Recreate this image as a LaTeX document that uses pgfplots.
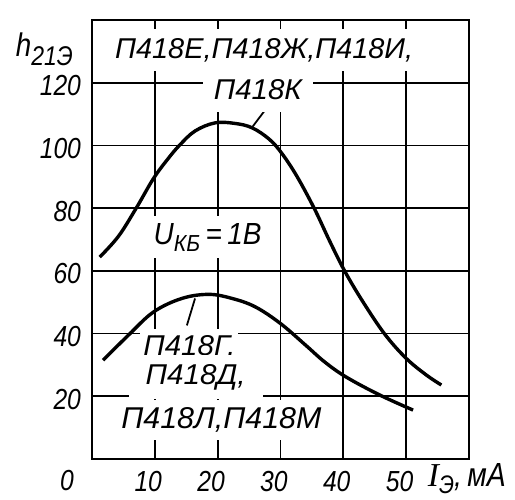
\documentclass[border=0pt]{standalone}
\usepackage{fontspec}
\setmainfont{Liberation Sans}[FakeStretch=0.85]
\newfontfamily\serifI{Liberation Serif}
\usepackage{pgfplots}
\pgfplotsset{compat=1.18}
\newcommand\gf{\fontsize{14.5}{16}\selectfont\itshape}
\newcommand\fit[3]{\resizebox{#1}{#2}{\gf #3}}
\begin{document}
\begin{tikzpicture}
\useasboundingbox (0,0) rectangle (257.5pt,249.5pt);
\begin{axis}[
  at={(46pt,20pt)}, anchor=south west,
  scale only axis, width=188.5pt, height=219.5pt,
  xmin=0, xmax=60, ymin=0, ymax=140,
  xtick={10,20,30,40,50}, xticklabels={10,20,30,40,50},
  ytick={20,40,60,80,100,120}, yticklabels={20,40,60,80,100,120},
  grid=major, major grid style={black, line width=0.9pt},
  axis line style={line width=1.3pt},
  major tick length=0pt,
  tick label style={font=\gf},
  xticklabel style={yshift=-2.5pt, xshift=-3.3pt},
  yticklabel style={xshift=-2pt, yshift=-1.5pt},
  clip=false,
]
\addplot[black, line width=1.7pt, smooth, tension=0.6] coordinates {
 (1.23,64.4) (4.2,71) (7.04,80) (9.8,89.5) (12.2,96) (14,100.2) (16.4,104.6)
 (19.6,107.2) (22.8,107) (25.5,105.6) (28.2,102) (30.2,97.5) (32.6,90.2)
 (35.4,79.8) (37.8,69.6) (40.2,60) (43.1,50.2) (46.6,39.8) (50,32.1) (53.2,26.8) (55.6,23.6)};
\addplot[black, line width=1.7pt, smooth, tension=0.6] coordinates {
 (1.76,31.5) (5.8,39.5) (9.8,46.9) (14.3,51.2) (18.6,52.5) (22.3,51.2) (26,48.5)
 (30,43.2) (34,36.3) (37,31) (40.4,26.2) (45.8,20.4) (51.1,15.6)};
% leader lines
\draw[black, line width=0.9pt] (axis cs:25.6,106.1) -- (axis cs:27.9,112.2);
\draw[black, line width=0.9pt] (axis cs:16.4,51.2) -- (axis cs:15.1,42.6);
% labels
\node[fill=white, inner xsep=5.5pt, minimum height=22pt] at (axis cs:26.4,117.8) {\fit{44pt}{10pt}{П418К}};
\node[fill=white, inner xsep=1pt, minimum height=21pt] at (axis cs:27.4,130.3) {\fit{149pt}{10pt}{П418Е,П418Ж,П418И,}};
\node[fill=white, inner xsep=2pt, minimum height=21pt] at (axis cs:18.4,70.7)
  {\fit{54pt}{10.5pt}{U\raisebox{-0.45ex}{\fontsize{11}{12}\selectfont КБ}\,=\,1В}};
\node[fill=white, inner xsep=1.5pt, minimum height=18pt] at (axis cs:15.5,35.7) {\fit{46pt}{10pt}{П418Г,}};
\node[fill=white, inner xsep=8.5pt, minimum height=22pt] at (axis cs:16.5,26.1) {\fit{50pt}{10pt}{П418Д,}};
\node[fill=white, inner xsep=1pt, minimum height=20pt] at (axis cs:20.6,12.4) {\fit{100pt}{10.5pt}{П418Л,П418М}};
% axis titles
\node[anchor=east] at (axis cs:0,130.7) [xshift=-6pt]
  {\fit{28.5pt}{!}{h\raisebox{-0.55ex}{\fontsize{12}{13}\selectfont 21Э}}};
\node[font=\gf] at (axis cs:0,0) [xshift=-12.5pt, yshift=-11pt] {0};
\node[anchor=west, inner sep=0pt] at (axis cs:53.4,0) [yshift=-10pt]
  {\fit{39pt}{!}{{\serifI\itshape I}\raisebox{-0.4ex}{\fontsize{11}{12}\selectfont Э},\,мА}};
\end{axis}
\end{tikzpicture}
\end{document}
